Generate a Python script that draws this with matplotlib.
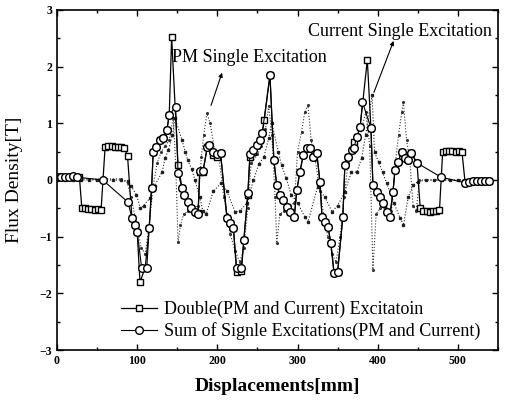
import matplotlib
matplotlib.use("Agg")
import matplotlib.pyplot as plt
from matplotlib.ticker import MultipleLocator

plt.rcParams['font.family'] = ['Liberation Serif', 'DejaVu Serif']

# Double (PM and Current) excitation - open squares
double_x = [0, 4, 8, 12, 16, 20, 24, 28, 31, 35, 39, 43, 47, 51, 55,
            60, 64, 68, 72, 76, 80, 84, 88, 93.5, 97, 100, 103.5, 110,
            115, 118, 120, 124, 128, 132, 137, 140, 143, 151, 156, 159,
            163, 167, 172, 176, 178, 182, 187.6, 190, 195, 199, 204, 212,
            216, 220, 224, 230, 233, 238, 240.6, 245, 249, 253, 256, 258.5,
            265.6, 270.5, 274, 278, 282, 287, 291, 296, 299, 303, 307,
            311.5, 315.5, 319.5, 324, 328, 330.5, 334.5, 338, 341.5, 345.5,
            350, 356.5, 359, 363, 367.5, 370, 374, 378, 387, 391.5, 394,
            399, 403, 407, 411, 415, 419, 421.6, 425, 430, 434, 438, 442,
            449, 453, 457, 461, 465, 469, 473, 477, 481, 485, 489, 493,
            497, 501, 505, 509, 514, 519, 524, 529, 534, 539]
double_y = [0.05, 0.05, 0.05, 0.05, 0.06, 0.06, 0.05, 0.05, -0.5, -0.5,
            -0.52, -0.52, -0.53, -0.52, -0.53, 0.58, 0.6, 0.6, 0.58, 0.58,
            0.58, 0.57, 0.42, -0.67, -0.79, -0.91, -1.8, -1.55, -0.85,
            -0.14, 0.49, 0.58, 0.7, 0.74, 0.88, 1.15, 2.52, 0.26, -0.14,
            -0.26, -0.38, -0.5, -0.56, -0.58, 0.14, 0.14, 0.59, 0.62, 0.44,
            0.41, 0.47, -0.67, -0.76, -0.85, -1.62, -1.6, -1.06, -0.26,
            0.41, 0.49, 0.62, 0.71, 0.83, 1.06, 1.85, 0.35, -0.09, -0.26,
            -0.35, -0.47, -0.56, -0.65, -0.18, 0.14, 0.44, 0.56, 0.56,
            0.41, 0.47, -0.04, -0.65, -0.74, -0.83, -1.11, -1.64, -1.62,
            -0.65, 0.26, 0.41, 0.53, 0.67, 0.76, 0.93, 2.12, 0.92, -0.09,
            -0.21, -0.3, -0.41, -0.56, -0.65, -0.21, 0.18, 0.32, 0.49,
            0.39, 0.35, 0.47, 0.3, -0.5, -0.55, -0.55, -0.56, -0.55, -0.54,
            -0.53, 0.5, 0.52, 0.52, 0.51, 0.5, 0.52, 0.5, -0.05, -0.03,
            -0.02, -0.02, -0.02, -0.02, -0.02]

# Sum of single excitations (PM and Current) - open circles
sum_x = [0, 5, 10, 15, 20, 25, 57, 88.5, 93.5, 97, 100, 105.6, 112, 115,
         118, 120, 124, 128, 132, 137, 140, 148, 151, 156, 159, 163, 167,
         172, 176, 178, 182, 187.6, 190, 195, 199, 204, 212, 216, 220, 224,
         230, 233, 238, 240.6, 245, 249, 253, 256, 265.6, 270.5, 274, 278,
         282, 287, 291, 296, 299, 303, 307, 311.5, 315.5, 319.5, 324, 328,
         330.5, 334.5, 338, 341.5, 345.5, 350, 356.5, 359, 363, 367.5, 370,
         374, 378, 381, 391.5, 394, 399, 403, 407, 411, 415, 419, 421.6,
         425, 430, 434, 438, 442, 449, 479, 509, 514, 519, 524, 529, 534, 539]
sum_y = [0.05, 0.05, 0.05, 0.06, 0.07, 0.05, 0.0, -0.39, -0.67, -0.79,
         -0.91, -1.55, -1.55, -0.85, -0.14, 0.49, 0.58, 0.7, 0.74, 0.88,
         1.15, 1.29, 0.12, -0.14, -0.26, -0.38, -0.5, -0.56, -0.6, 0.15,
         0.15, 0.59, 0.62, 0.5, 0.45, 0.47, -0.67, -0.76, -0.85, -1.55,
         -1.55, -1.06, -0.23, 0.45, 0.53, 0.62, 0.71, 0.83, 1.85, 0.35,
         -0.09, -0.26, -0.35, -0.47, -0.56, -0.65, -0.18, 0.14, 0.44, 0.56,
         0.56, 0.41, 0.47, -0.04, -0.65, -0.74, -0.83, -1.11, -1.64, -1.62,
         -0.65, 0.26, 0.41, 0.53, 0.56, 0.76, 0.93, 1.37, 0.92, -0.09,
         -0.21, -0.3, -0.41, -0.56, -0.65, -0.21, 0.18, 0.32, 0.49, 0.39,
         0.35, 0.47, 0.3, 0.05, -0.05, -0.03, -0.02, -0.02, -0.02, -0.02, -0.02]

# PM single excitation - dotted
pm_x = [0, 20, 40, 60, 80, 88, 92, 100, 105, 110, 115, 120, 125, 130, 135,
        140, 145, 148, 151, 154, 158, 163, 170, 176, 180, 183, 187, 191, 197,
        202, 208, 212, 216, 222, 228, 233, 238, 242, 250, 255, 260, 264, 268,
        272, 274, 278, 283, 290, 296, 300, 305, 309, 313, 317, 322, 328, 333,
        338, 343, 348, 353, 358, 363, 370, 376, 380, 385, 390, 394, 398, 403,
        410, 417, 422, 426, 430, 432, 436, 440, 444, 448, 452, 470, 500, 540]
pm_y = [0.03, 0.03, 0.02, 0.02, 0.02, -0.05, -0.3, -0.8, -1.2, -1.3, -0.8,
        -0.1, 0.3, 0.5, 0.6, 0.7, 1.1, 0.3, -1.1, -0.8, -0.6, -0.55, -0.5,
        -0.45, 0.4, 0.8, 1.18, 1.0, 0.5, 0.4, -0.3, -0.6, -0.95, -1.25,
        -1.45, -1.2, -0.5, 0.3, 0.45, 0.6, 0.9, 1.3, 0.8, -0.3, -1.11, -0.6,
        -0.55, -0.45, -0.4, 0.5, 0.85, 1.2, 1.32, 0.7, 0.35, -0.2, -0.65,
        -1.0, -1.3, -1.45, -1.0, -0.3, 0.3, 0.55, 0.7, 0.9, 1.2, 0.6, -1.58,
        -0.6, -0.5, -0.5, -0.55, 0.3, 0.8, 1.2, 1.37, 0.7, 0.35, -0.45,
        -0.55, 0.0, 0.0, 0.0, 0.0]

# Current single excitation - small filled squares
cur_x = [0, 10, 20, 30, 40, 50, 60, 70, 80, 88, 92, 99, 104, 108, 116, 122,
         131, 135, 139, 144, 147, 156, 160, 163, 168, 172, 178, 182, 186, 195,
         205, 212, 222, 228, 237, 245, 252, 258, 264, 268, 276, 280, 286, 292,
         300, 309, 313, 325, 334, 343, 350, 359, 367, 374, 380, 385, 393, 396,
         401, 406, 411, 420, 428, 432, 438, 444, 450, 460, 470, 480, 490, 500,
         510, 520, 530, 540]
cur_y = [0.0, 0.0, 0.0, 0.0, 0.0, 0.0, 0.0, 0.0, 0.0, -0.02, -0.1, -0.26,
         -0.5, -0.45, -0.32, -0.1, 0.14, 0.39, 0.53, 0.79, 1.1, 0.7, 0.5,
         0.35, 0.2, 0.0, -0.3, -0.55, -0.6, -0.2, -0.05, -0.2, -0.56, -0.55,
         -0.4, 0.0, 0.29, 0.4, 0.74, 1.0, 0.5, 0.26, 0.03, -0.26, -0.4,
         -0.65, -0.74, -0.12, -0.3, -0.56, -0.45, -0.21, 0.14, 0.14, 0.39,
         0.8, 1.5, 0.49, 0.32, 0.14, -0.05, -0.4, -0.67, -0.8, -0.3, -0.09,
         -0.03, 0.0, 0.0, 0.0, 0.0, 0.0, 0.0, 0.0, 0.0, 0.0]

fig = plt.figure(figsize=(5.11, 4.03), dpi=100)
ax = fig.add_axes([0.1115, 0.1315, 0.8631, 0.8437])

ax.plot(pm_x, pm_y, linestyle=':', color='#333333', linewidth=0.8,
        marker='.', markersize=2.5)
ax.plot(cur_x, cur_y, linestyle=':', color='#222222', linewidth=0.8,
        marker='s', markersize=2, markerfacecolor='#111111')
ax.plot(double_x, double_y, color='black', linewidth=0.9, marker='s',
        markersize=5, markerfacecolor='white', markeredgewidth=1.0,
        label='Double(PM and Current) Excitatoin')
ax.plot(sum_x, sum_y, color='black', linewidth=0.8, marker='o',
        markersize=5.5, markerfacecolor='white', markeredgewidth=1.0,
        label='Sum of Signle Excitations(PM and Current)')

ax.set_xlim(0, 550)
ax.set_ylim(-3, 3)
ax.xaxis.set_major_locator(MultipleLocator(100))
ax.xaxis.set_minor_locator(MultipleLocator(50))
ax.yaxis.set_major_locator(MultipleLocator(1))
ax.yaxis.set_minor_locator(MultipleLocator(0.5))
ax.tick_params(which='both', direction='in', top=True, right=True,
               labelsize=8.5, width=1.0)
ax.tick_params(which='major', length=4)
ax.tick_params(which='minor', length=2)
for lab in ax.get_xticklabels() + ax.get_yticklabels():
    lab.set_fontweight('bold')
for sp in ax.spines.values():
    sp.set_linewidth(1.2)

ax.set_xlabel('Displacements[mm]', fontsize=14, fontweight='bold', labelpad=8)
ax.set_ylabel('Flux Density[T]', fontsize=14, labelpad=12)

# annotations
ax.text(144, 2.17, 'PM Single Excitation', fontsize=13, va='center', ha='left')
ax.annotate('', xy=(207, 1.94), xytext=(191, 1.27),
            arrowprops=dict(arrowstyle='-|>', lw=0.8, color='black',
                            mutation_scale=6))
ax.text(313, 2.62, 'Current Single Excitation', fontsize=13, va='center', ha='left')
ax.annotate('', xy=(421, 2.5), xytext=(394, 1.5),
            arrowprops=dict(arrowstyle='-|>', lw=0.8, color='black',
                            mutation_scale=6))

ax.legend(loc='upper left', bbox_to_anchor=(0.145, 0.145), frameon=False,
          fontsize=13, handlelength=2.0, handletextpad=0.4, labelspacing=0.25,
          borderpad=0, borderaxespad=0)

fig.savefig('out.png', dpi=100)
